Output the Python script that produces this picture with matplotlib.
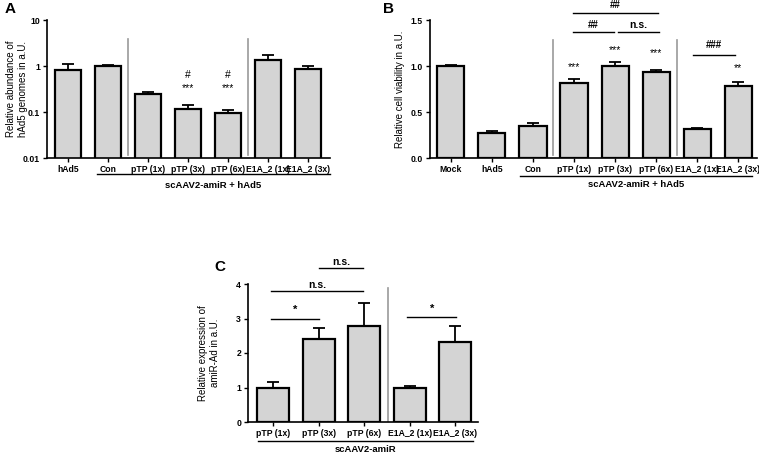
import matplotlib
matplotlib.use("Agg")
import matplotlib.pyplot as plt
import matplotlib.transforms as mtransforms
import numpy as np

plt.rcParams['font.family'] = ['Liberation Sans', 'DejaVu Sans']

# ---- data ----
a_labels = ["hAd5", "Con", "pTP (1x)", "pTP (3x)", "pTP (6x)", "E1A_2 (1x)", "E1A_2 (3x)"]
a_values = [0.80, 1.02, 0.25, 0.115, 0.097, 1.35, 0.88]
a_err = [0.32, 0.04, 0.02, 0.027, 0.013, 0.40, 0.10]

b_labels = ["Mock", "hAd5", "Con", "pTP (1x)", "pTP (3x)", "pTP (6x)", "E1A_2 (1x)", "E1A_2 (3x)"]
b_values = [1.00, 0.27, 0.35, 0.82, 1.00, 0.93, 0.31, 0.78]
b_err = [0.01, 0.025, 0.035, 0.035, 0.04, 0.025, 0.02, 0.05]

c_labels = ["pTP (1x)", "pTP (3x)", "pTP (6x)", "E1A_2 (1x)", "E1A_2 (3x)"]
c_values = [1.00, 2.40, 2.77, 1.00, 2.33]
c_err = [0.15, 0.32, 0.68, 0.03, 0.45]

W, H = 759, 453
fig = plt.figure(figsize=(W / 100, H / 100), dpi=100)


def make_ax(l, r, t, b):
    return fig.add_axes([l / W, (H - b) / H, (r - l) / W, (b - t) / H])


BAR_C = "#d4d4d4"
SEP_C = "#999999"
TFS = 6.2
YLFS = 7


def draw_bars(ax, labels, vals, errs, width):
    x = np.arange(len(labels))
    ax.bar(x, vals, width=width, color=BAR_C, edgecolor="black", linewidth=1.6, zorder=2)
    ax.errorbar(x, vals, yerr=[np.zeros(len(vals)), errs], fmt="none", ecolor="black",
                elinewidth=1.3, capsize=4.5, capthick=1.3, zorder=1)
    ax.set_xticks(x)
    ax.set_xticklabels(labels, fontsize=TFS, fontweight="bold")
    for s in ["top", "right"]:
        ax.spines[s].set_visible(False)
    for s in ["left", "bottom"]:
        ax.spines[s].set_linewidth(1.2)
    ax.tick_params(axis="both", width=1.0, length=3, labelsize=TFS, pad=2)
    return x


def group_line(ax, x0, x1, yline, ytext, text):
    tr = mtransforms.blended_transform_factory(ax.transData, ax.transAxes)
    ax.plot([x0, x1], [yline, yline], color="black", lw=1.0, transform=tr, clip_on=False)
    ax.text((x0 + x1) / 2, ytext, text, transform=tr, ha="center", va="center",
            fontsize=6.8, fontweight="bold")


def bracket(ax, x0, x1, yline, ytext, text, fs=7):
    ax.plot([x0, x1], [yline, yline], color="black", lw=1.0, clip_on=False)
    ax.text((x0 + x1) / 2, ytext, text, ha="center", va="center", fontsize=fs,
            fontweight="bold", clip_on=False)


# ---- Panel A ----
axA = make_ax(47, 330, 20, 158)
draw_bars(axA, a_labels, a_values, a_err, 0.67)
axA.set_yscale("log")
axA.set_ylim(0.01, 10)
axA.set_xlim(-0.525, 6.55)
axA.set_yticks([0.01, 0.1, 1, 10])
axA.set_yticklabels(["0.01", "0.1", "1", "10"], fontsize=TFS, fontweight="bold")
axA.yaxis.set_minor_locator(matplotlib.ticker.NullLocator())
axA.set_ylabel("Relative abundance of\nhAd5 genomes in a.U.", fontsize=YLFS)
axA.yaxis.set_label_coords(-0.068, 0.5)
for xs in [1.5, 4.5]:
    axA.axvline(xs, ymin=0.02, ymax=0.86, color=SEP_C, lw=1.2)
for i in [3, 4]:
    axA.text(i, 0.64, "#", ha="center", va="center", fontsize=7.5)
    axA.text(i, 0.33, "***", ha="center", va="center", fontsize=7.5)
group_line(axA, 0.725, 6.55, -0.116, -0.196, "scAAV2-amiR + hAd5")
fig.text(5 / W, 1 - 9 / H, "A", fontsize=11, fontweight="bold", va="center", ha="left")

# ---- Panel B ----
axB = make_ax(430, 757, 20, 158)
draw_bars(axB, b_labels, b_values, b_err, 0.66)
axB.set_ylim(0, 1.5)
axB.set_xlim(-0.51, 7.46)
axB.set_yticks([0.0, 0.5, 1.0, 1.5])
axB.set_yticklabels(["0.0", "0.5", "1.0", "1.5"], fontsize=TFS, fontweight="bold")
axB.set_ylabel("Relative cell viability in a.U.", fontsize=YLFS, labelpad=4)
for xs in [2.5, 5.5]:
    axB.axvline(xs, ymin=0.02, ymax=0.855, color=SEP_C, lw=1.2)
axB.text(3, 0.99, "***", ha="center", va="center", fontsize=7.5)
axB.text(4, 1.17, "***", ha="center", va="center", fontsize=7.5)
axB.text(5, 1.14, "***", ha="center", va="center", fontsize=7.5)
axB.text(7, 0.98, "**", ha="center", va="center", fontsize=7.5)
bracket(axB, 2.97, 5.05, 1.576, 1.66, "##", fs=7)
bracket(axB, 2.97, 3.98, 1.37, 1.445, "##", fs=7)
bracket(axB, 4.07, 5.07, 1.37, 1.445, "n.s.", fs=7.5)
bracket(axB, 5.9, 6.93, 1.12, 1.23, "###", fs=7)
group_line(axB, 1.68, 7.34, -0.13, -0.19, "scAAV2-amiR + hAd5")
fig.text(383 / W, 1 - 9 / H, "B", fontsize=11, fontweight="bold", va="center", ha="left")

# ---- Panel C ----
axC = make_ax(248, 478, 284, 422)
draw_bars(axC, c_labels, c_values, c_err, 0.70)
axC.set_ylim(0, 4)
axC.set_xlim(-0.55, 4.5)
axC.set_yticks([0, 1, 2, 3, 4])
axC.set_yticklabels(["0", "1", "2", "3", "4"], fontsize=TFS, fontweight="bold")
axC.set_ylabel("Relative expression of\namiR-Ad in a.U.", fontsize=YLFS, labelpad=12)
axC.axvline(2.52, ymin=0.0, ymax=0.97, color=SEP_C, lw=1.2)
bracket(axC, -0.04, 1.0, 2.99, 3.25, "*", fs=8)
bracket(axC, -0.04, 1.98, 3.80, 3.97, "n.s.", fs=7.5)
bracket(axC, 1.0, 1.98, 4.46, 4.64, "n.s.", fs=7.5)
bracket(axC, 2.95, 4.02, 3.04, 3.28, "*", fs=8)
group_line(axC, -0.33, 4.4, -0.138, -0.196, "scAAV2-amiR")
fig.text(214 / W, 1 - 267 / H, "C", fontsize=11, fontweight="bold", va="center", ha="left")

fig.savefig("out.png", dpi=100)
